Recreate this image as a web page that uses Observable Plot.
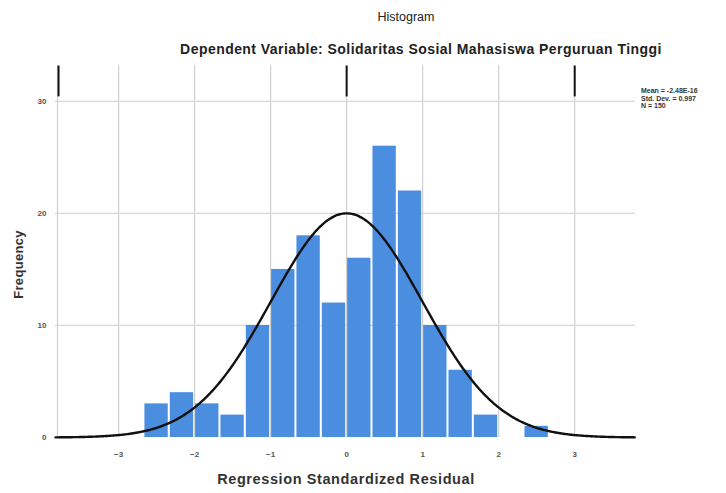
<!DOCTYPE html>
<html>
<head>
<meta charset="utf-8">
<script src="https://cdn.jsdelivr.net/npm/d3@7"></script>
<script src="https://cdn.jsdelivr.net/npm/@observablehq/plot@0.6"></script>
<style>
  html, body { margin: 0; padding: 0; background: #fff; }
  #wrap { position: relative; width: 726px; height: 493px; overflow: hidden; font-family: "Liberation Sans", Arial, sans-serif; }
  #chart { position: absolute; left: 0; top: 0; }
  .t { position: absolute; white-space: nowrap; color: #222; }
</style>
</head>
<body>
<div id="wrap">
  <div id="chart"></div>
  <div class="t" style="left:106px;width:600px;text-align:center;top:10px;font-size:12.5px;">Histogram</div>
  <div class="t" style="left:121px;width:600px;text-align:center;top:41px;font-size:14px;font-weight:bold;letter-spacing:0.45px;">Dependent Variable: Solidaritas Sosial Mahasiswa Perguruan Tinggi</div>
  <div class="t" style="left:146px;width:400px;text-align:center;top:471px;font-size:14.5px;font-weight:bold;letter-spacing:0.6px;color:#333;">Regression Standardized Residual</div>
  <div class="t" style="left:-34px;top:257px;width:104px;text-align:center;font-size:13px;font-weight:bold;letter-spacing:0.3px;color:#333;transform:rotate(-90deg);">Frequency</div>
  <div class="t" id="legend" style="left:641px;top:87px;font-size:7px;line-height:7.5px;font-weight:bold;color:#333;"></div>
</div>
<script>
// Histogram bins (lower edges, width 1/3) and counts
const binLow = [-2.667, -2.333, -2.0, -1.667, -1.333, -1.0, -0.667, -0.333, 0.0, 0.333, 0.667, 1.0, 1.333, 1.667, 2.0, 2.333];
const counts = [3, 4, 3, 2, 10, 15, 18, 12, 16, 26, 22, 10, 6, 2, 0, 1];
const binWidth = 1 / 3;
// Summary statistics shown in the legend
const statLabels = ["Mean = -2.48E-16", "Std. Dev. = 0.997", "N = 150"];
const meanVal = 0;
const sdVal = 0.997;
const nVal = 150;
// Axis ticks
const xTicks = [-3, -2, -1, 0, 1, 2, 3];
const yTicks = [0, 10, 20, 30];
const topMarks = [-3.79, 0, 3];

const bars = binLow.map((lo, i) => ({x1: lo, x2: lo + binWidth, y: counts[i]}));
const xDomain = [-3.83, 3.8];
const curve = d3.range(xDomain[0], xDomain[1] + 0.001, 0.02).map(x => ({
  x, y: nVal * binWidth * Math.exp(-0.5 * ((x - meanVal) / sdVal) ** 2) / (sdVal * Math.sqrt(2 * Math.PI))
}));

document.getElementById("legend").innerHTML = statLabels.join("<br>");

const chart = Plot.plot({
  width: 726,
  height: 493,
  marginLeft: 55,
  marginRight: 91,
  marginTop: 65,
  marginBottom: 56,
  style: {fontFamily: "Liberation Sans, Arial, sans-serif", fontSize: "8px", color: "#333", background: "transparent"},
  x: {domain: xDomain, ticks: xTicks, tickSize: 0, tickPadding: 14, label: null, tickFormat: d => String(d)},
  y: {domain: [0, 33.2], ticks: yTicks, tickSize: 0, tickPadding: 9, label: null},
  marks: [
    Plot.gridX(xTicks, {stroke: "#cfcfcf", strokeOpacity: 1, strokeWidth: 1.2}),
    Plot.gridY([10, 20, 30], {stroke: "#d8d8d8", strokeOpacity: 1, strokeWidth: 1.2}),
    Plot.ruleX([xDomain[0]], {stroke: "#d0d0d0", strokeWidth: 1.2, dx: 2}),
    Plot.rectY(bars, {x1: "x1", x2: "x2", y: "y", fill: "#4b8ee0", insetLeft: 1, insetRight: 1}),
    Plot.line(curve, {x: "x", y: "y", stroke: "#111", strokeWidth: 2.4, curve: "basis"}),
    Plot.ruleX(topMarks, {y1: 30.4, y2: 33.15, stroke: "#111", strokeWidth: 2}),
    Plot.axisX({ticks: xTicks, tickSize: 0, tickPadding: 14, fontSize: 8, fontWeight: "bold", fill: "#555"}),
    Plot.axisY({ticks: yTicks, tickSize: 0, tickPadding: 9, fontSize: 8, fontWeight: "bold", fill: "#555"})
  ]
});
document.getElementById("chart").appendChild(chart);
</script>
</body>
</html>
